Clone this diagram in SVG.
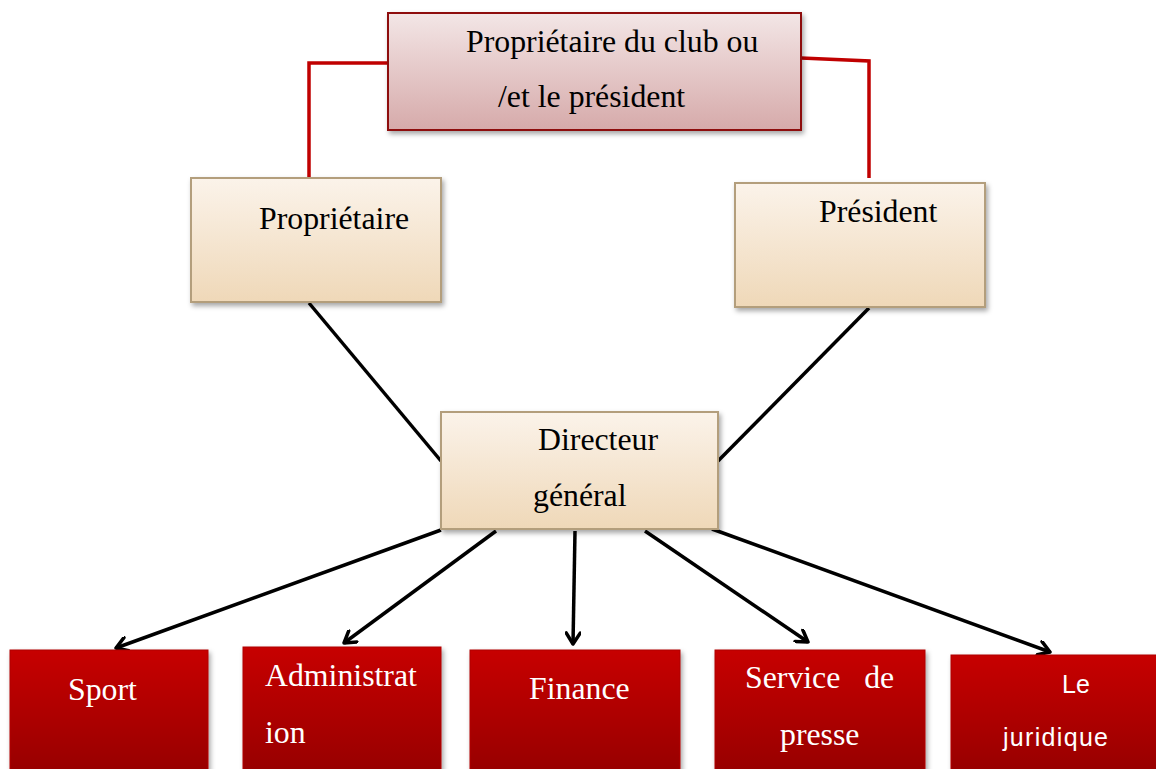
<svg xmlns="http://www.w3.org/2000/svg" width="1156" height="769" viewBox="0 0 1156 769">
<defs>
<linearGradient id="gPink" x1="0" y1="0" x2="0" y2="1"><stop offset="0" stop-color="#f3e6e6"/><stop offset="1" stop-color="#d6aaaa"/></linearGradient>
<linearGradient id="gBeige" x1="0" y1="0" x2="0" y2="1"><stop offset="0" stop-color="#fbf3ea"/><stop offset="1" stop-color="#efd8b8"/></linearGradient>
<linearGradient id="gRed" x1="0" y1="0" x2="0" y2="1"><stop offset="0" stop-color="#c70000"/><stop offset="1" stop-color="#940000"/></linearGradient>
<filter id="sh" x="-10%" y="-10%" width="125%" height="130%"><feDropShadow dx="2" dy="3" stdDeviation="2.5" flood-color="#000" flood-opacity="0.35"/></filter>
<marker id="arr" markerWidth="16" markerHeight="16" refX="13" refY="8" orient="auto" markerUnits="userSpaceOnUse"><path d="M2,1 L13,8 L2,15" fill="none" stroke="#000" stroke-width="3.5" stroke-linecap="round" stroke-linejoin="round"/></marker>
</defs>
<style>
.serif{font-family:"Liberation Serif","Times New Roman",serif;font-size:31.8px}
.dark{fill:#000}
.white{fill:#fff}
.beige{fill:url(#gBeige);stroke:#b39e7c;stroke-width:2;filter:url(#sh)}
.red{fill:url(#gRed);stroke:#b00000;stroke-width:1;filter:url(#sh)}
.pink{fill:url(#gPink);stroke:#8e1010;stroke-width:2;filter:url(#sh)}
.redline{fill:none;stroke:#c00000;stroke-width:3.5}
.blk{fill:none;stroke:#000;stroke-width:3.5}
</style>
<rect width="1156" height="769" fill="#fff"/>
<g id="connectors">
<polyline class="redline" points="388,63 309,63 309,180"/>
<polyline class="redline" points="801,58 869,61 869,178"/>
<line class="blk" x1="309" y1="303" x2="441" y2="461"/>
<line class="blk" x1="869" y1="308" x2="718" y2="461"/>
<line class="blk" x1="441" y1="530" x2="116" y2="648" marker-end="url(#arr)"/>
<line class="blk" x1="496" y1="531" x2="344" y2="643" marker-end="url(#arr)"/>
<line class="blk" x1="575" y1="531" x2="573" y2="644" marker-end="url(#arr)"/>
<line class="blk" x1="645" y1="531" x2="808" y2="642" marker-end="url(#arr)"/>
<line class="blk" x1="712" y1="529" x2="1050" y2="652" marker-end="url(#arr)"/>
</g>
<g id="top">
<rect class="pink" x="388" y="13" width="413" height="117"/>
<text class="serif dark" x="466" y="52">Propriétaire du club ou</text>
<text class="serif dark" x="498" y="107">/et le président</text>
</g>
<g id="proprietaire">
<rect class="beige" x="191" y="178" width="250" height="124"/>
<text class="serif dark" x="259" y="229">Propriétaire</text>
</g>
<g id="president">
<rect class="beige" x="735" y="183" width="250" height="124"/>
<text class="serif dark" x="819" y="222">Président</text>
</g>
<g id="directeur">
<rect class="beige" x="441" y="412" width="277" height="117"/>
<text class="serif dark" x="538" y="450">Directeur</text>
<text class="serif dark" x="533" y="506">général</text>
</g>
<g id="sport">
<rect class="red" x="10" y="650" width="198" height="130"/>
<text class="serif white" x="68" y="700">Sport</text>
</g>
<g id="administration">
<rect class="red" x="243" y="647" width="198" height="133"/>
<text class="serif white" x="265" y="686">Administrat</text>
<text class="serif white" x="265" y="743">ion</text>
</g>
<g id="finance">
<rect class="red" x="470" y="650" width="210" height="130"/>
<text class="serif white" x="529" y="699">Finance</text>
</g>
<g id="presse">
<rect class="red" x="715" y="650" width="210" height="130"/>
<text class="serif white" x="745" y="688" xml:space="preserve">Service   de</text>
<text class="serif white" x="780" y="745">presse</text>
</g>
<g id="juridique">
<rect class="red" x="951" y="655" width="215" height="125"/>
<text class="white" x="1062" y="693" style="font-family:'Liberation Sans',Arial,sans-serif;font-size:25px">Le</text>
<text class="white" x="1003" y="746" textLength="105" style="font-family:'Liberation Sans',Arial,sans-serif;font-size:25px">juridique</text>
</g>
</svg>
